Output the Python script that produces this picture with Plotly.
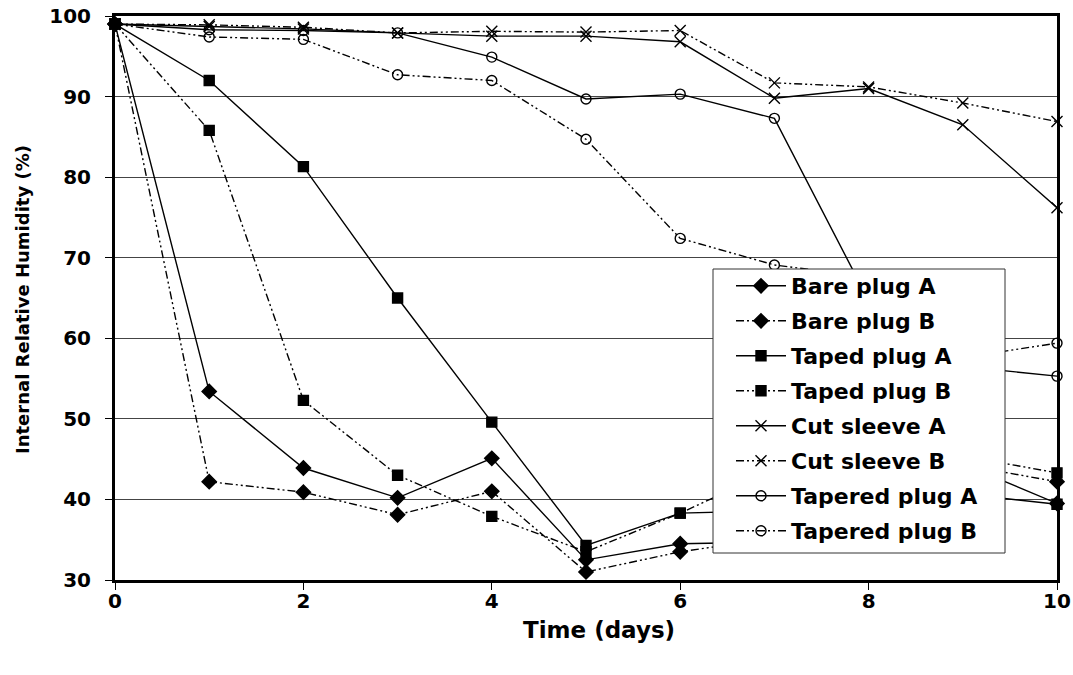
import plotly.graph_objects as go

days = [0, 1, 2, 3, 4, 5, 6, 7, 8, 9, 10]

bare_plug_a = [99.0, 53.4, 43.9, 40.2, 45.1, 32.5, 34.5, 34.7, 38.0, 44.4, 39.5]
bare_plug_b = [99.0, 42.2, 40.9, 38.1, 41.0, 31.0, 33.5, 35.2, 38.5, 44.3, 42.2]
taped_plug_a = [99.0, 92.0, 81.3, 65.0, 49.6, 34.3, 38.3, 38.6, 39.5, 40.7, 39.4]
taped_plug_b = [99.0, 85.8, 52.3, 43.0, 37.9, 33.5, 38.3, 43.7, 44.0, 45.4, 43.3]
cut_sleeve_a = [99.0, 98.7, 98.4, 97.9, 97.5, 97.5, 96.8, 89.8, 91.0, 86.5, 76.2]
cut_sleeve_b = [99.0, 98.9, 98.6, 97.9, 98.1, 98.0, 98.2, 91.7, 91.2, 89.2, 86.9]
tapered_plug_a = [99.0, 98.3, 98.2, 97.9, 94.9, 89.7, 90.3, 87.3, 64.7, 56.5, 55.3]
tapered_plug_b = [99.0, 97.4, 97.1, 92.7, 92.0, 84.7, 72.4, 69.1, 67.6, 57.6, 59.4]

x_ticks = [0, 2, 4, 6, 8, 10]
y_ticks = [30, 40, 50, 60, 70, 80, 90, 100]

FONT = "DejaVu Sans"
B_DASH = "8px,3px,2px,3px,2px,3px"

# plot area in pixels: x 115..1057, y 16..580
L, R, T, B = 115, 16, 16, 95
W, H = 1073, 675
PW, PH = W - L - R, H - T - B


def px_x(p):
    return (p - L) / PW


def px_y(p):
    return (H - B - p) / PH


series = [
    ("Bare plug A", bare_plug_a, "diamond", "solid", 11),
    ("Bare plug B", bare_plug_b, "diamond", B_DASH, 11),
    ("Taped plug A", taped_plug_a, "square", "solid", 10),
    ("Taped plug B", taped_plug_b, "square", B_DASH, 10),
    ("Cut sleeve A", cut_sleeve_a, "x-thin-open", "solid", 11),
    ("Cut sleeve B", cut_sleeve_b, "x-thin-open", B_DASH, 11),
    ("Tapered plug A", tapered_plug_a, "circle-open", "solid", 10),
    ("Tapered plug B", tapered_plug_b, "circle-open", B_DASH, 10),
]

fig = go.Figure()
for name, vals, sym, dash, size in series:
    fig.add_trace(go.Scatter(
        x=days, y=vals, name=name, legendgroup=name, mode="lines+markers",
        line=dict(color="black", width=1.4, dash=dash),
        marker=dict(symbol=sym, size=size, color="black",
                    line=dict(color="black", width=1.4)),
        cliponaxis=False,
    ))

# legend box
fig.add_shape(type="rect", xref="paper", yref="paper",
              x0=px_x(713), x1=px_x(1005), y0=px_y(553), y1=px_y(269),
              fillcolor="white", line=dict(color="#333", width=1), layer="above")

fig.add_annotation(text="Time (days)", xref="paper", yref="paper",
                   x=px_x(599), y=px_y(630), showarrow=False,
                   xanchor="center", yanchor="middle",
                   font=dict(family=FONT, size=23, weight="bold", color="black"))
fig.add_annotation(text="Internal Relative Humidity (%)", xref="paper", yref="paper",
                   x=px_x(22), y=px_y(300), showarrow=False, textangle=-90,
                   xanchor="center", yanchor="middle",
                   font=dict(family=FONT, size=18, weight="bold", color="black"))

fig.update_layout(
    width=W, height=H,
    margin=dict(l=L, r=R, t=T, b=B),
    paper_bgcolor="white", plot_bgcolor="white",
    font=dict(family=FONT, color="black", weight="bold"),
    showlegend=True,
    legend=dict(
        x=px_x(731), y=px_y(265), xanchor="left", yanchor="top",
        bgcolor="rgba(0,0,0,0)", borderwidth=0,
        font=dict(family=FONT, size=22, color="black", weight="bold"),
        itemwidth=50, tracegroupgap=3.4, traceorder="grouped",
    ),
    xaxis=dict(
        range=[0, 10], tickvals=x_ticks, ticktext=[str(v) for v in x_ticks],
        showgrid=False, zeroline=False, automargin=False,
        showline=True, linewidth=3, linecolor="black", mirror=True,
        ticks="outside", ticklen=7, tickwidth=1, tickcolor="black",
        tickfont=dict(family=FONT, size=20, weight="bold"),
        ticklabelstandoff=-6,
    ),
    yaxis=dict(
        range=[30, 100], tickvals=y_ticks, ticktext=[str(v) for v in y_ticks],
        showgrid=True, gridcolor="#444", gridwidth=1, zeroline=False, automargin=False,
        showline=True, linewidth=3, linecolor="black", mirror=True,
        ticks="outside", ticklen=7, tickwidth=1, tickcolor="black",
        tickfont=dict(family=FONT, size=20, weight="bold"),
        ticklabelstandoff=10,
    ),
)

fig.write_html("out.html")
